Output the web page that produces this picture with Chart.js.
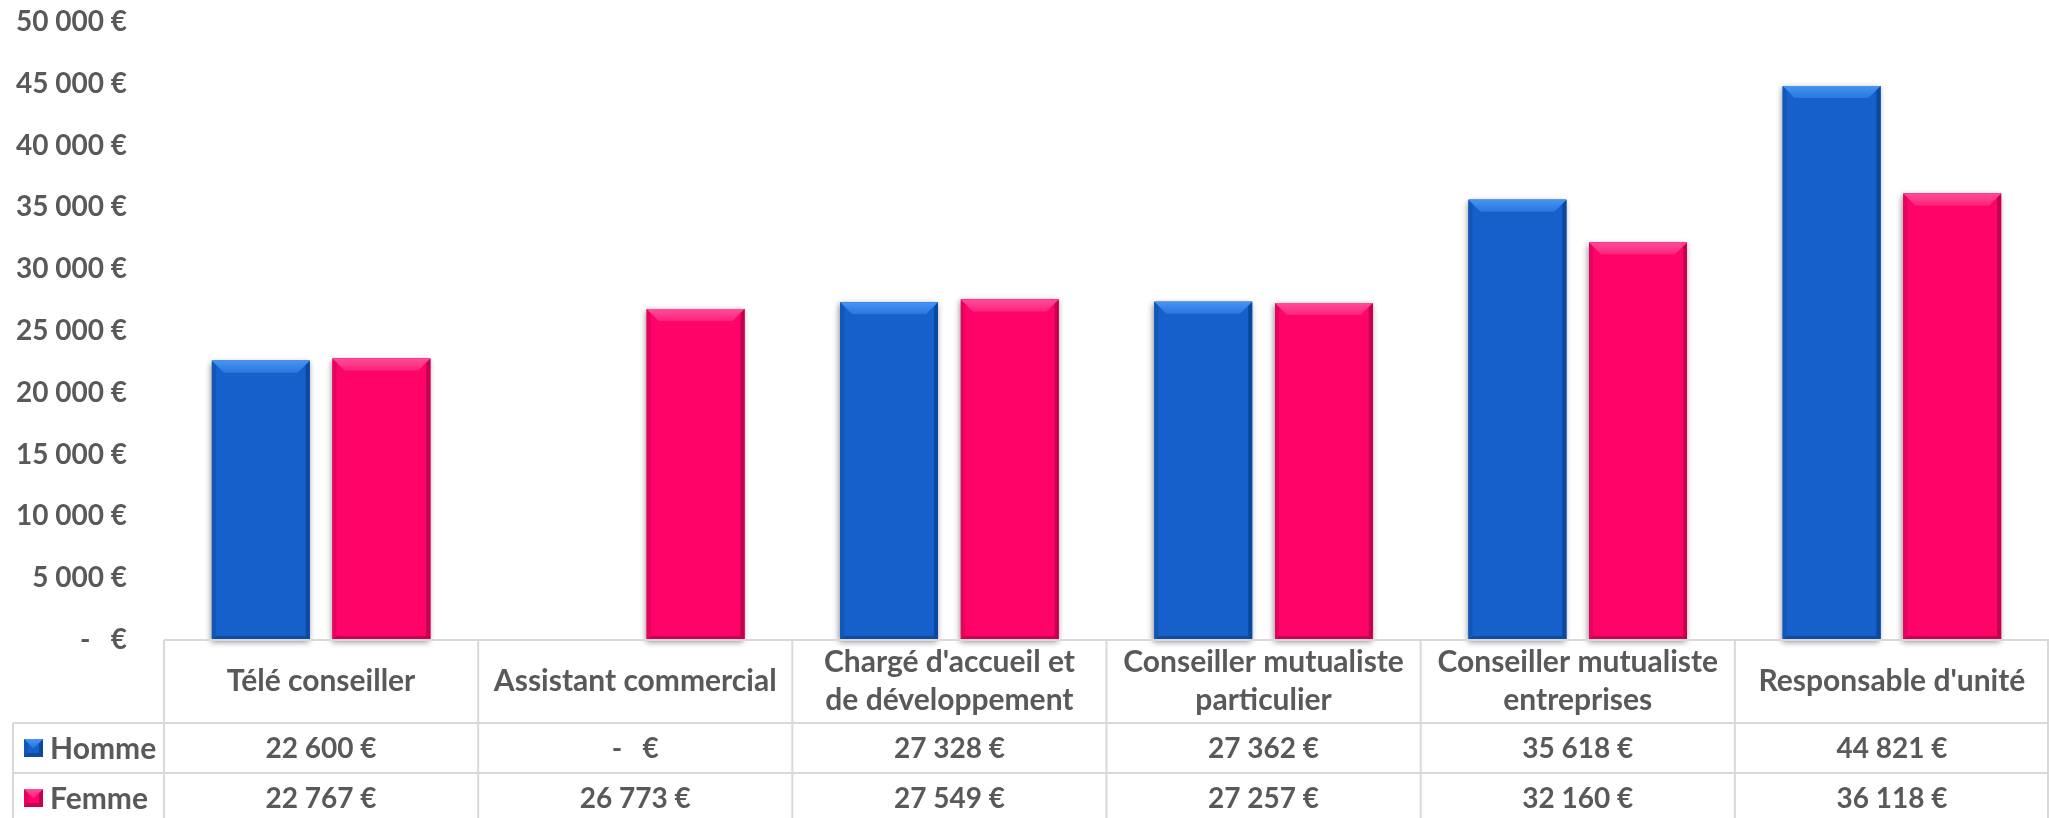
<!DOCTYPE html>
<html lang="fr">
<head>
<meta charset="utf-8">
<title>Salaire moyen par métier - Homme / Femme</title>
<script src="https://cdn.jsdelivr.net/npm/chart.js@4.4.1/dist/chart.umd.min.js"></script>
<style>
  html, body { margin: 0; padding: 0; background: #fff; }
  #wrap { width: 2049px; height: 818px; position: relative; }
</style>
</head>
<body>
<div id="wrap"><canvas id="salaryChart"></canvas></div>
<script>
// Data
const categories = [
    'Télé conseiller',
    'Assistant commercial',
    ["Chargé d'accueil et", 'de développement'],
    ['Conseiller mutualiste', 'particulier'],
    ['Conseiller mutualiste', 'entreprises'],
    "Responsable d'unité"
];
const seriesNames = ['Homme', 'Femme'];
const hommeValues = [22600, 0, 27328, 27362, 35618, 44821];
const femmeValues = [22767, 26773, 27549, 27257, 32160, 36118];
const yTickValues = [0, 5000, 10000, 15000, 20000, 25000, 30000, 35000, 40000, 45000, 50000];

// Styles
const TEXT_COLOR = '#595959';
const LINE_COLOR = '#d9d9d9';
const FONT_FAMILY = 'Lato, Carlito, "Open Sans", sans-serif';
const barStyles = [
    { fill: '#1560cb', top: '#4595f4', topEnd: '#2a76de', dark: '#0b489f' },
    { fill: '#fe0468', top: '#ff4d99', topEnd: '#ff2379', dark: '#c4004e' }
];

// "22 600 €" / "-   €"
function formatEuro(value) {
    if (!value) return '-   €';
    return String(value).replace(/\B(?=(\d{3})+(?!\d))/g, ' ') + ' €';
}

function drawBevelRect(ctx, l, t, r, b, style) {
    const s = Math.min(12, (b - t) / 2);
    const e = 4;
    ctx.save();
    ctx.fillStyle = style.fill;
    ctx.fillRect(l, t, r - l, b - t);
    // left edge
    ctx.fillStyle = 'rgba(0,0,0,0.10)';
    ctx.beginPath();
    ctx.moveTo(l, t); ctx.lineTo(l + e, t + e); ctx.lineTo(l + e, b - e); ctx.lineTo(l, b);
    ctx.closePath(); ctx.fill();
    // right edge
    ctx.fillStyle = style.dark;
    ctx.beginPath();
    ctx.moveTo(r, t); ctx.lineTo(r, b); ctx.lineTo(r - e, b - e); ctx.lineTo(r - e, t + e);
    ctx.closePath(); ctx.fill();
    // bottom edge
    ctx.fillStyle = 'rgba(0,0,0,0.22)';
    ctx.beginPath();
    ctx.moveTo(l, b); ctx.lineTo(r, b); ctx.lineTo(r - e, b - e); ctx.lineTo(l + e, b - e);
    ctx.closePath(); ctx.fill();
    // top bevel
    const grad = ctx.createLinearGradient(0, t, 0, t + s);
    grad.addColorStop(0, style.top);
    grad.addColorStop(1, style.topEnd);
    ctx.fillStyle = grad;
    ctx.beginPath();
    ctx.moveTo(l, t); ctx.lineTo(r, t); ctx.lineTo(r - s, t + s); ctx.lineTo(l + s, t + s);
    ctx.closePath(); ctx.fill();
    ctx.restore();
}

// Bars with a soft shadow and bevelled edges
const bevelPlugin = {
    id: 'bevel',
    afterDatasetsDraw(chart) {
        const ctx = chart.ctx;
        chart.data.datasets.forEach((ds, i) => {
            const style = barStyles[i];
            chart.getDatasetMeta(i).data.forEach(bar => {
                const p = bar.getProps(['x', 'y', 'base', 'width'], true);
                if (Math.abs(p.base - p.y) < 1) return;
                const l = p.x - p.width / 2, r = p.x + p.width / 2;
                ctx.save();
                ctx.shadowColor = 'rgba(0,0,0,0.45)';
                ctx.shadowBlur = 6;
                ctx.shadowOffsetX = -1;
                ctx.shadowOffsetY = 2;
                ctx.fillStyle = style.fill;
                ctx.fillRect(l, p.y, p.width, p.base - p.y);
                ctx.restore();
                drawBevelRect(ctx, l, p.y, r, p.base, style);
            });
        });
    }
};

// Data table under the axis
const tablePlugin = {
    id: 'dataTable',
    afterDraw(chart) {
        const ctx = chart.ctx;
        const area = chart.chartArea;
        const xScale = chart.scales.x;
        const n = categories.length;
        const colW = xScale.width / n;
        const top = area.bottom;
        const headerBottom = top + 83;
        const rowH = 50;
        const tableLeft = 13;
        const bottom = chart.height;

        ctx.save();
        ctx.strokeStyle = LINE_COLOR;
        ctx.lineWidth = 2;
        ctx.beginPath();
        ctx.moveTo(area.left, top); ctx.lineTo(area.right, top);
        ctx.moveTo(tableLeft, headerBottom); ctx.lineTo(area.right, headerBottom);
        ctx.moveTo(tableLeft, headerBottom + rowH); ctx.lineTo(area.right, headerBottom + rowH);
        ctx.moveTo(tableLeft, headerBottom); ctx.lineTo(tableLeft, bottom);
        for (let i = 0; i <= n; i++) {
            const x = i < n ? xScale.getPixelForValue(i) - colW / 2 : area.right - 1;
            ctx.moveTo(x, top); ctx.lineTo(x, bottom);
        }
        ctx.stroke();

        const rows = [hommeValues, femmeValues];
        ctx.fillStyle = TEXT_COLOR;
        ctx.textBaseline = 'middle';
        rows.forEach((values, r) => {
            const cy = headerBottom + rowH * r + rowH / 2;
            // legend key
            drawBevelRect(ctx, tableLeft + 11, cy - 9, tableLeft + 30, cy + 9, barStyles[r]);
            ctx.fillStyle = TEXT_COLOR;
            ctx.font = 'bold 30px ' + FONT_FAMILY;
            ctx.textAlign = 'left';
            ctx.fillText(seriesNames[r], tableLeft + 37, cy + 1);
            ctx.font = 'bold 28px ' + FONT_FAMILY;
            ctx.textAlign = 'center';
            values.forEach((v, i) => {
                ctx.fillText(formatEuro(v), xScale.getPixelForValue(i), cy + 1);
            });
        });
        ctx.restore();
    }
};

function drawChart() {
    const canvas = document.getElementById('salaryChart');
    new Chart(canvas, {
        type: 'bar',
        data: {
            labels: categories,
            datasets: [
                { label: seriesNames[0], data: hommeValues, backgroundColor: barStyles[0].fill, borderWidth: 0 },
                { label: seriesNames[1], data: femmeValues, backgroundColor: barStyles[1].fill, borderWidth: 0 }
            ]
        },
        options: {
            responsive: true,
            maintainAspectRatio: false,
            animation: false,
            layout: { padding: { top: 22, right: 0, bottom: 0, left: 0 } },
            datasets: {
                bar: { categoryPercentage: 0.768, barPercentage: 0.81 }
            },
            plugins: {
                legend: { display: false },
                tooltip: { enabled: false }
            },
            scales: {
                x: {
                    grid: { display: false, drawTicks: false },
                    border: { display: false },
                    ticks: {
                        color: TEXT_COLOR,
                        font: { family: FONT_FAMILY, size: 30, weight: 'bold', lineHeight: 1.27 },
                        maxRotation: 0,
                        autoSkip: false,
                        crossAlign: 'center',
                        padding: 22
                    },
                    afterFit(scale) { scale.height = 178; }
                },
                y: {
                    min: 0,
                    max: 50000,
                    afterBuildTicks(scale) {
                        scale.ticks = yTickValues.map(v => ({ value: v }));
                    },
                    grid: { display: false, drawTicks: false },
                    border: { display: false },
                    ticks: {
                        color: TEXT_COLOR,
                        font: { family: FONT_FAMILY, size: 28, weight: 'bold' },
                        padding: 37,
                        callback: value => formatEuro(value)
                    },
                    afterFit(scale) {
                        scale.width = 164;
                        scale.paddingTop = 0;
                        scale.paddingBottom = 0;
                    }
                }
            }
        },
        plugins: [bevelPlugin, tablePlugin]
    });
}

if (document.fonts && document.fonts.load) {
    document.fonts.load('bold 28px Lato').then(drawChart, drawChart);
} else {
    drawChart();
}
</script>
</body>
</html>
